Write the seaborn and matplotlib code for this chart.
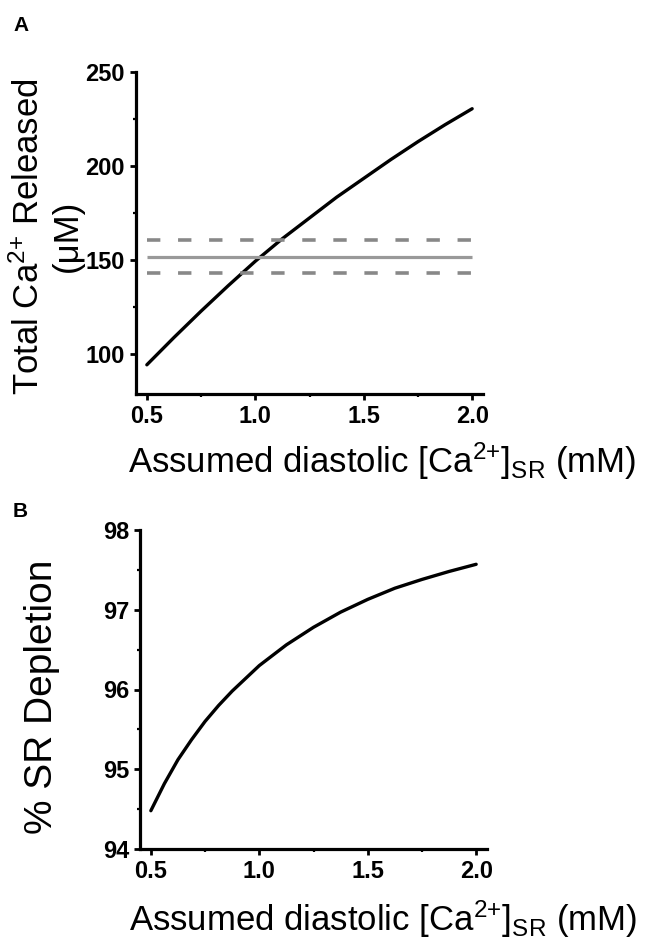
import matplotlib
matplotlib.use("Agg")
import matplotlib.pyplot as plt
from matplotlib.ticker import MultipleLocator
import seaborn as sns

# assumed diastolic [Ca2+]SR (mM)
ca_sr = [0.5, 0.625, 0.75, 0.875, 1.0, 1.125, 1.25, 1.375, 1.5, 1.625, 1.75, 1.875, 2.0]
# panel A: total Ca2+ released (uM)
ca_released = [94.5, 109.0, 123.0, 136.5, 149.5, 161.5, 172.5, 183.5, 193.5, 203.5, 213.0, 222.0, 230.5]
# measured release: mean and +/- SD (grey lines)
measured_mean = 152.0
measured_sd = 9.0
# panel B: % SR depletion (denser near the steep start)
ca_sr_b = [0.5, 0.5625, 0.625, 0.6875, 0.75, 0.8125, 0.875, 1.0, 1.125, 1.25,
           1.375, 1.5, 1.625, 1.75, 1.875, 2.0]
sr_depletion = [94.48, 94.82, 95.12, 95.37, 95.60, 95.80, 95.98, 96.30, 96.56, 96.78,
                96.97, 97.13, 97.27, 97.38, 97.48, 97.57]

x_ticks = [0.5, 1.0, 1.5, 2.0]
a_ticks = [100, 150, 200, 250]
b_ticks = [94, 95, 96, 97, 98]

XLABEL = r"Assumed diastolic [Ca$^{2{+}}$]$_{SR}$ (mM)"

sns.set_style("ticks")
plt.rcParams["font.family"] = ["Liberation Sans", "DejaVu Sans"]
plt.rcParams["mathtext.default"] = "regular"
plt.rcParams.update({"text.color": "black", "axes.labelcolor": "black",
                     "xtick.color": "black", "ytick.color": "black",
                     "axes.edgecolor": "black"})

W, H = 650, 939
fig = plt.figure(figsize=(W / 100, H / 100), dpi=100)


def px_axes(left, top, right, bottom):
    return fig.add_axes([left / W, 1 - bottom / H, (right - left) / W, (bottom - top) / H])


def style_axes(ax, yticks, ylim, yminor):
    ax.set_xlim(0.45, 2.05)
    ax.set_ylim(*ylim)
    ax.set_xticks(x_ticks)
    ax.set_xticklabels([f"{v:.1f}" for v in x_ticks])
    ax.set_yticks(yticks)
    ax.xaxis.set_minor_locator(MultipleLocator(0.25))
    ax.yaxis.set_minor_locator(MultipleLocator(yminor))
    sns.despine(ax=ax)
    for s in ["left", "bottom"]:
        ax.spines[s].set_linewidth(2.3)
    ax.tick_params(which="major", direction="out", length=4, width=2,
                   labelsize=17, pad=4)
    ax.tick_params(which="minor", direction="out", length=2.5, width=1.6)
    for lab in ax.get_xticklabels() + ax.get_yticklabels():
        lab.set_fontweight("bold")


# ---- panel A ----
ax1 = px_axes(136, 72, 483, 394)
sns.lineplot(x=ca_sr, y=ca_released, color="black", linewidth=2.4, ax=ax1)
ax1.hlines(measured_mean, ca_sr[0], ca_sr[-1], color="#999999", linewidth=2.3)
ax1.hlines([measured_mean + measured_sd, measured_mean - measured_sd], ca_sr[0], ca_sr[-1],
           color="#888888", linewidth=2.6, linestyles=(0, (3.7, 4.9)))
style_axes(ax1, a_ticks, (79, 250), 25)
ax1.set_xlabel(XLABEL, fontsize=25)
ax1.set_ylabel("Total Ca$^{2{+}}$ Released\n(\u03bcM)", fontsize=25, linespacing=1.2)
ax1.xaxis.set_label_coords(0.709, -0.145)
ax1.yaxis.set_label_coords(-0.15, 0.49)
fig.text(13 / W, 1 - 31 / H, "A", fontsize=15, fontweight="bold")

# ---- panel B ----
ax2 = px_axes(140, 530, 487, 849)
sns.lineplot(x=ca_sr_b, y=sr_depletion, color="black", linewidth=2.4, ax=ax2)
style_axes(ax2, b_ticks, (94, 98), 0.5)
ax2.set_xlabel(XLABEL, fontsize=25)
ax2.set_ylabel("% SR Depletion", fontsize=28)
ax2.xaxis.set_label_coords(0.70, -0.155)
ax2.yaxis.set_label_coords(-0.23, 0.476)
fig.text(13 / W, 1 - 517 / H, "B", fontsize=15, fontweight="bold")

fig.savefig("out.png", dpi=100, facecolor="white")
